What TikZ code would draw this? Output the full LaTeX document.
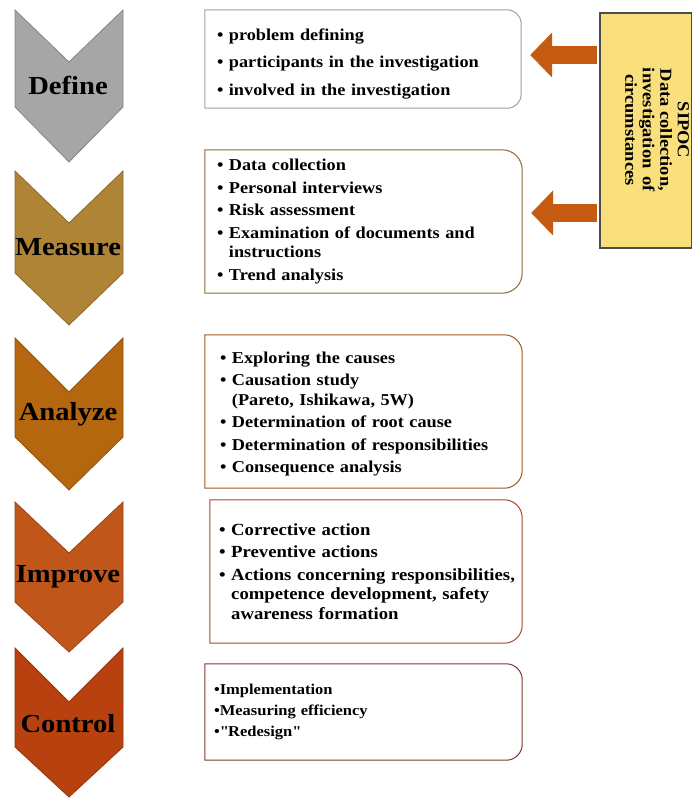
\documentclass[tikz,border=0pt]{standalone}
\usepackage{fontspec}
\setmainfont{Liberation Serif}[FakeStretch=1.1]
\usetikzlibrary{arrows.meta,calc}

\definecolor{definefill}{HTML}{A6A6A6}
\definecolor{measurefill}{HTML}{AF8436}
\definecolor{analyzefill}{HTML}{B4670F}
\definecolor{improvefill}{HTML}{C0561A}
\definecolor{controlfill}{HTML}{B8420F}
\definecolor{defineline}{HTML}{A0A0A0}
\definecolor{measureline}{HTML}{8C6A3A}
\definecolor{analyzeline}{HTML}{A0581C}
\definecolor{improveline}{HTML}{A34A2D}
\definecolor{controlline}{HTML}{7B3A30}
\definecolor{sipocfill}{HTML}{FAE07C}
\definecolor{feedcolor}{HTML}{C55A11}

\begin{document}
\begin{tikzpicture}[
  x=1pt,y=-1pt,
  chevron/.style={draw=#1!80!black,fill=#1,line width=0.8pt},
  phase/.style={font=\fontsize{26}{26}\selectfont\bfseries,text=black},
  infobox/.style={inner xsep=12pt,inner ysep=0pt,align=left,
    font=\fontsize{16.6}{19.5}\selectfont\bfseries},
  boxframe/.style={line width=1pt},
  sipocbox/.style={draw=black!70,line width=1.5pt,fill=sipocfill},
  sipoctext/.style={rotate=-90,align=center,
    font=\fontsize{16.8}{17.5}\selectfont\bfseries},
  feed/.style={line width=18pt,draw=feedcolor,
    -{Triangle[width=44pt,length=22pt]},shorten >=9pt,shorten <=2pt}]
\useasboundingbox (0,0) rectangle (692,798);

% Phase chevrons on the left
  \filldraw[chevron=definefill]  (15,10) -- (69,62) -- (123,10) -- (123,107)
                                 -- (69,162) -- (15,107) -- cycle;
  \filldraw[chevron=measurefill] (15,171) -- (69,223) -- (123,171) -- (123,273)
                                 -- (69,325) -- (15,273) -- cycle;
  \filldraw[chevron=analyzefill] (15,338) -- (69,392) -- (123,338) -- (123,437)
                                 -- (69,490) -- (15,437) -- cycle;
  \filldraw[chevron=improvefill] (15,502) -- (69,553) -- (123,502) -- (123,602)
                                 -- (69,652) -- (15,602) -- cycle;
  \filldraw[chevron=controlfill] (15,648) -- (69,702) -- (123,648) -- (123,747)
                                 -- (69,797) -- (15,747) -- cycle;

  \node[phase] (define)  at (68,85)  {Define};
  \node[phase] (measure) at (68,247) {Measure};
  \node[phase] (analyze) at (68,414) {Analyze};
  \node[phase] (improve) at (68,577) {Improve};
  \node[phase] (control) at (68,724) {Control};

% Activity boxes
  \node[infobox,minimum width=316pt,minimum height=98pt,text width=292pt]
        (definebox) at (363,59) {
            \rule{0pt}{21pt}\textbullet\ problem defining\\[8pt]
            \textbullet\ participants in the investigation\\[8pt]
            \textbullet\ involved in the investigation
        };
  \node[infobox,minimum width=317pt,minimum height=143pt,text width=293pt]
        (measurebox) at (363.5,221.5) {
            \textbullet\ Data collection\\[3pt]
            \textbullet\ Personal interviews\\[3pt]
            \textbullet\ Risk assessment\\[3pt]
            \textbullet\ Examination of documents and\\
            \phantom{\textbullet\ }instructions\\[3pt]
            \textbullet\ Trend analysis
        };
  \node[infobox,inner xsep=15pt,minimum width=317pt,minimum height=153pt,
        text width=287pt]
        (analyzebox) at (363.5,411.5) {
            \rule{0pt}{17pt}\textbullet\ Exploring the causes\\[3pt]
            \textbullet\ Causation study\\
            \phantom{\textbullet\ }(Pareto, Ishikawa, 5W)\\[3pt]
            \textbullet\ Determination of root cause\\[3pt]
            \textbullet\ Determination of responsibilities\\[3pt]
            \textbullet\ Consequence analysis
        };
  \node[infobox,inner xsep=9pt,minimum width=312pt,minimum height=143pt,
        text width=294pt,font=\fontsize{17}{19.5}\selectfont\bfseries]
        (improvebox) at (366,571.5) {
            \textbullet\ Corrective action\\[3pt]
            \textbullet\ Preventive actions\\[3pt]
            \textbullet\ \mbox{Actions concerning responsibilities,}\\
            \phantom{\textbullet\ }competence development, safety\\
            \phantom{\textbullet\ }awareness formation
        };
  \node[infobox,inner xsep=9pt,minimum width=317pt,minimum height=96pt,
        text width=299pt,font=\fontsize{15}{21}\selectfont\bfseries]
        (controlbox) at (363.5,712) {
            \textbullet Implementation\\
            \textbullet Measuring efficiency\\
            \textbullet\textquotedbl Redesign\textquotedbl
        };

  \draw[boxframe,draw=defineline] (definebox.south west) |- ($(definebox.north east)+(-14,0)$)
        arc[start angle=90,end angle=0,radius=14pt] -- ($(definebox.south east)+(0,-14)$)
        arc[start angle=0,end angle=-90,radius=14pt] -- cycle;
  \draw[boxframe,draw=measureline] (measurebox.south west) |- ($(measurebox.north east)+(-20,0)$)
        arc[start angle=90,end angle=0,radius=20pt] -- ($(measurebox.south east)+(0,-20)$)
        arc[start angle=0,end angle=-90,radius=20pt] -- cycle;
  \draw[boxframe,draw=analyzeline] (analyzebox.south west) |- ($(analyzebox.north east)+(-18,0)$)
        arc[start angle=90,end angle=0,radius=18pt] -- ($(analyzebox.south east)+(0,-18)$)
        arc[start angle=0,end angle=-90,radius=18pt] -- cycle;
  \draw[boxframe,draw=improveline] (improvebox.south west) |- ($(improvebox.north east)+(-18,0)$)
        arc[start angle=90,end angle=0,radius=18pt] -- ($(improvebox.south east)+(0,-18)$)
        arc[start angle=0,end angle=-90,radius=18pt] -- cycle;
  \draw[boxframe,draw=controlline] (controlbox.south west) |- ($(controlbox.north east)+(-16,0)$)
        arc[start angle=90,end angle=0,radius=16pt] -- ($(controlbox.south east)+(0,-16)$)
        arc[start angle=0,end angle=-90,radius=16pt] -- cycle;

% SIPOC box on the right
  \node[sipocbox,minimum width=92pt,minimum height=235pt,inner sep=0pt]
        (sipoc) at (646,130.5) {};
  \node[sipoctext] (sipoclabel) at (657,130) {
        SIPOC\\ Data collection,\\ investigation\hspace{8pt}of\\ circumstances
    };

% Feed arrows into the first two boxes
  \draw[feed] ($(sipoc.west |- definebox.east)+(0,-4)$)  -- ($(definebox.east)+(0,-4)$);
  \draw[feed] ($(sipoc.west |- measurebox.east)+(0,-8.5)$) -- ($(measurebox.east)+(0,-8.5)$);
\end{tikzpicture}
\end{document}
